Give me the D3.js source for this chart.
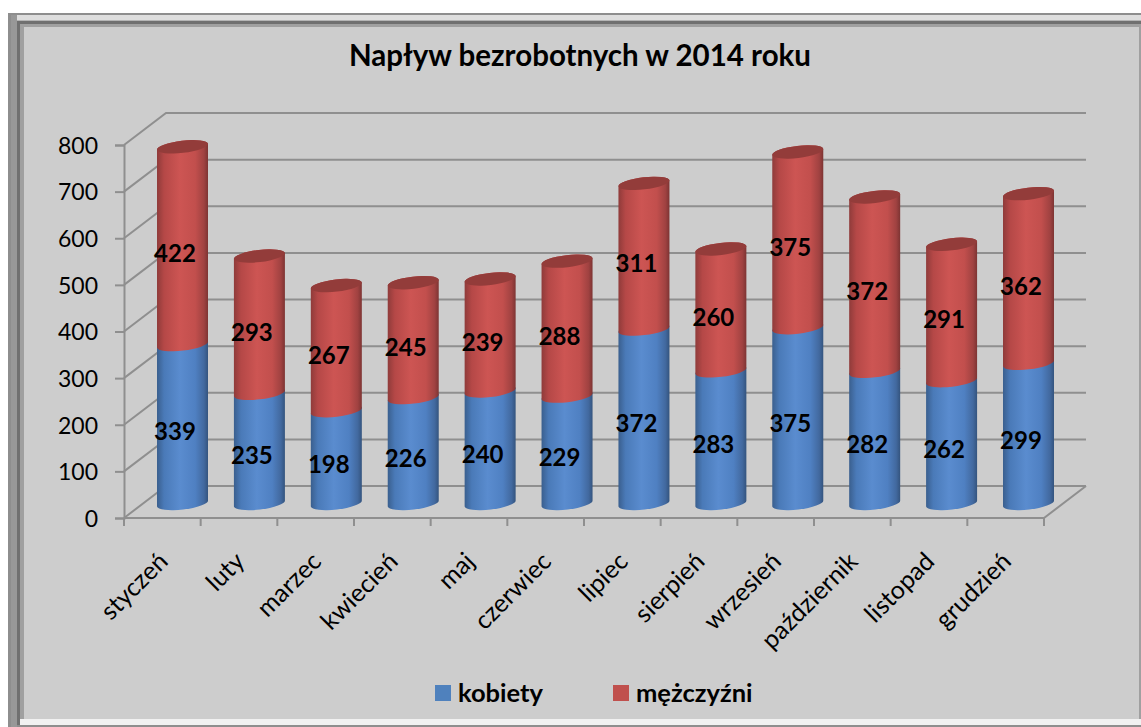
<!DOCTYPE html>
<html>
<head>
<meta charset="utf-8">
<script src="https://cdn.jsdelivr.net/npm/d3@7"></script>
<style>
html, body { margin: 0; padding: 0; background: #fff; }
svg { display: block; }
text { font-family: Lato, "Open Sans", sans-serif; fill: #000; }
</style>
</head>
<body>
<div id="charts"></div>
<script>
const months = ["styczeń", "luty", "marzec", "kwiecień", "maj", "czerwiec", "lipiec", "sierpień", "wrzesień", "październik", "listopad", "grudzień"];
const kobiety = [339, 235, 198, 226, 240, 229, 372, 283, 375, 282, 262, 299];
const mezczyzni = [422, 293, 267, 245, 239, 288, 311, 260, 375, 372, 291, 362];
const yTicks = [0, 100, 200, 300, 400, 500, 600, 700, 800];
const title = "Napływ bezrobotnych w 2014 roku";
const legendNames = ["kobiety", "mężczyźni"];

window.onload = init;

function init()
{
    const width = 1141;
    const height = 727;
    const svg = d3.select('#charts').append('svg').attr('width', width).attr('height', height);
    const defs = svg.append('defs');

    // frame, built from nested bands like the bevel in the picture
    svg.append('rect').attr('x', 8).attr('y', 13).attr('width', 1133).attr('height', 714).attr('fill', '#8e8e8e');
    svg.append('rect').attr('x', 11).attr('y', 15).attr('width', 1130).attr('height', 710).attr('fill', '#dedede');
    svg.append('rect').attr('x', 11).attr('y', 20).attr('width', 1130).attr('height', 2).attr('fill', '#b5b5b5');
    svg.append('rect').attr('x', 11).attr('y', 15).attr('width', 6).attr('height', 712).attr('fill', '#989898');
    svg.append('rect').attr('x', 17).attr('y', 21).attr('width', 1124).attr('height', 704).attr('fill', '#707070');
    svg.append('rect').attr('x', 20).attr('y', 24).attr('width', 1121).attr('height', 695).attr('fill', '#a0a0a0');
    svg.append('rect').attr('x', 20).attr('y', 719).attr('width', 1121).attr('height', 6).attr('fill', '#f1f1f1');
    svg.append('rect').attr('x', 24).attr('y', 27).attr('width', 1115).attr('height', 692).attr('fill', '#cdcdcd');

    const depthX = 42;
    const depthY = -32;
    const gridColor = '#8f8f8f';

    const x = d3.scaleBand().domain(months).range([124, 1044]);
    const y = d3.scaleLinear().domain([0, 800]).range([518, 145]);
    // the bars stand in the middle of the floor, so their base is behind the front edge
    const barX = d3.scalePoint().domain(months).range([182.5, 1028.5]);
    const barY = d3.scaleLinear().domain([0, 800]).range([503.5, 128.5]);
    const barWidth = 51;
    const rx = barWidth / 2;
    const ry = 6;
    const tilt = 3;

    // walls and floor
    const grid = svg.append('g').attr('fill', 'none').attr('stroke', gridColor).attr('stroke-width', 2);
    yTicks.forEach(t => {
        grid.append('path').attr('d', `M124,${y(t)}L${124 + depthX},${y(t) + depthY}L${1044 + depthX},${y(t) + depthY}`);
    });
    grid.append('path').attr('d', `M124,${y(0)}L1044,${y(0)}L${1044 + depthX},${y(0) + depthY}`);

    const yAxis = d3.axisLeft(y).tickValues(yTicks).tickSize(9).tickPadding(17).tickFormat(d3.format('d'));
    const yG = svg.append('g').attr('transform', 'translate(124,0)').call(yAxis);
    yG.select('.domain').attr('stroke', gridColor).attr('stroke-width', 2);
    yG.selectAll('.tick line').attr('stroke', gridColor).attr('stroke-width', 2);
    yG.selectAll('text').style('font-family', 'Lato').style('font-size', '23px').attr('fill', '#000').attr('dy', '0.36em');

    const xAxis = d3.axisBottom(x).tickSize(0).tickPadding(0);
    const xG = svg.append('g').attr('transform', `translate(0,${y(0)})`).call(xAxis);
    xG.select('.domain').remove();
    xG.selectAll('.tick text').remove();
    xG.selectAll('.tick line').remove();
    xG.selectAll('.tick').append('text')
        .attr('transform', 'translate(7,45) rotate(-45)')
        .attr('text-anchor', 'end')
        .style('font-size', '25px')
        .text(d => d);

    const tickX = months.map(m => x(m)).concat([1044]);
    svg.append('g').selectAll('line').data(tickX).enter().append('line')
        .attr('x1', d => d).attr('x2', d => d)
        .attr('y1', y(0)).attr('y2', y(0) + 8)
        .attr('stroke', gridColor).attr('stroke-width', 2);

    // cylinders
    function makeGradient(id, stops) {
        const g = defs.append('linearGradient').attr('id', id);
        stops.forEach(s => g.append('stop').attr('offset', s[0]).attr('stop-color', s[1]));
    }
    makeGradient('blueBar', [[0, '#3a5f8e'], [0.14, '#4a7ab8'], [0.45, '#5a8ccf'], [0.75, '#4f80c2'], [0.92, '#42699f'], [1, '#34547e']]);
    makeGradient('redBar', [[0, '#8f3b3a'], [0.14, '#b54847'], [0.45, '#cd5553'], [0.75, '#c24f4d'], [0.92, '#a04241'], [1, '#7d3433']]);

    const angle = Math.atan2(-2 * tilt, barWidth) * 180 / Math.PI;

    function body(d) {
        const x0 = barX(d.month) - rx;
        const x1 = x0 + barWidth;
        const top = barY(d.to);
        const bottom = barY(d.from);
        return `M${x0},${top + tilt}A${rx},${ry} ${angle} 0 1 ${x1},${top - tilt}` +
            `L${x1},${bottom - tilt}A${rx},${ry} ${angle} 0 1 ${x0},${bottom + tilt}Z`;
    }
    function cap(d) {
        const x0 = barX(d.month) - rx;
        const x1 = x0 + barWidth;
        const top = barY(d.to);
        return `M${x0},${top + tilt}A${rx},${ry} ${angle} 0 1 ${x1},${top - tilt}` +
            `A${rx},${ry} ${angle} 0 1 ${x0},${top + tilt}Z`;
    }

    const blue = months.map((m, i) => ({ month: m, from: 0, to: kobiety[i], value: kobiety[i] }));
    const red = months.map((m, i) => ({ month: m, from: kobiety[i], to: kobiety[i] + mezczyzni[i], value: mezczyzni[i] }));

    svg.append('g').selectAll('path').data(blue).enter().append('path').attr('d', body).attr('fill', 'url(#blueBar)');
    svg.append('g').selectAll('path').data(red).enter().append('path').attr('d', body).attr('fill', 'url(#redBar)');
    svg.append('g').selectAll('path').data(red).enter().append('path').attr('d', cap).attr('fill', '#933c3a');

    // data labels
    svg.append('g').selectAll('text').data(blue.concat(red)).enter().append('text')
        .attr('x', d => barX(d.month) - 7.5)
        .attr('y', d => barY((d.from + d.to) / 2) + 16)
        .attr('text-anchor', 'middle')
        .style('font-size', '24px')
        .style('font-weight', 'bold')
        .text(d => d.value);

    svg.append('text')
        .attr('x', 580).attr('y', 66)
        .attr('text-anchor', 'middle')
        .style('font-size', '29.5px')
        .style('font-weight', 'bold')
        .text(title);

    // legend
    const legendColor = d3.scaleOrdinal().domain(legendNames).range(['#4f81bd', '#c0504d']);
    const legendX = d3.scaleOrdinal().domain(legendNames).range([435, 613]);
    const legend = svg.append('g').selectAll('g').data(legendNames).enter().append('g')
        .attr('transform', d => `translate(${legendX(d)},685)`);
    legend.append('rect').attr('width', 16).attr('height', 16).attr('fill', d => legendColor(d));
    legend.append('text').attr('x', 23).attr('y', 17)
        .style('font-size', '25.5px').style('font-weight', 'bold').text(d => d);
}
</script>
</body>
</html>
